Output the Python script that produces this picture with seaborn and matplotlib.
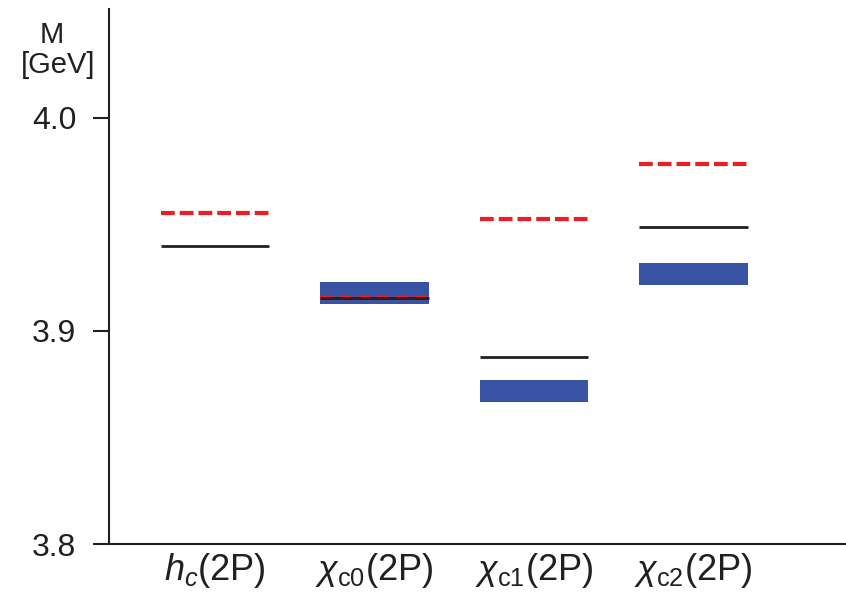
import numpy as np
import seaborn as sns
import matplotlib.pyplot as plt

states = [r'$h_c$(2P)', r'$\chi_{\rm c0}$(2P)', r'$\chi_{\rm c1}$(2P)', r'$\chi_{\rm c2}$(2P)']
# red dashed: model prediction, black solid: second prediction
red_mass = [3.9555, 3.9156, 3.9526, 3.9784]
black_mass = [3.9396, 3.9156, 3.8878, 3.9485]
# blue bands: measured range (hc has none)
band_lo = [np.nan, 3.9125, 3.8665, 3.9213]
band_hi = [np.nan, 3.9227, 3.8770, 3.9316]

sns.set_theme(style="ticks")
plt.rcParams['font.family'] = ['Liberation Sans', 'DejaVu Sans']
plt.rcParams['mathtext.fontset'] = 'custom'
plt.rcParams['mathtext.rm'] = 'Liberation Sans'
plt.rcParams['mathtext.it'] = 'Liberation Sans:italic'

fig = plt.figure(figsize=(8.46, 5.92), dpi=100)
ax = fig.add_axes([109 / 846, 48 / 592, 1 - 109 / 846, (544 - 9) / 592])

x = np.arange(len(states))
hw = 0.34
lo = np.array(band_lo)
hi = np.array(band_hi)
ax.bar(x, hi - lo, bottom=lo, width=2 * hw, color='#3852a4', linewidth=0)
ax.hlines(red_mass, x - hw, x + hw, colors='#ee1c25', linewidth=3.0,
          linestyles=(0, (3.3, 1.2)))
ax.hlines(black_mass, x - hw, x + hw, colors='#231f20', linewidth=2.0)

ax.set_xlim(-0.665, 3.956)
ax.set_ylim(3.8, 4.051)
ax.set_xticks(x)
ax.set_xticklabels(states)
ax.set_yticks([3.8, 3.9, 4.0])
ax.set_yticklabels(['3.8', '3.9', '4.0'])
ax.tick_params(axis='x', length=0, pad=5, labelsize=26, colors='#231f20')
ax.tick_params(axis='y', length=11.5, width=1.5, pad=12, labelsize=23,
               colors='#231f20')
sns.despine(ax=ax)
for s in ['left', 'bottom']:
    ax.spines[s].set_linewidth(1.5)
    ax.spines[s].set_color('#231f20')

fig.text(52 / 846, 1 - 21 / 592, 'M', ha='center', va='top',
         fontsize=21, color='#231f20')
fig.text(58 / 846, 1 - 51 / 592, '[GeV]', ha='center', va='top',
         fontsize=21, color='#231f20')

fig.savefig('out.png', dpi=100)
